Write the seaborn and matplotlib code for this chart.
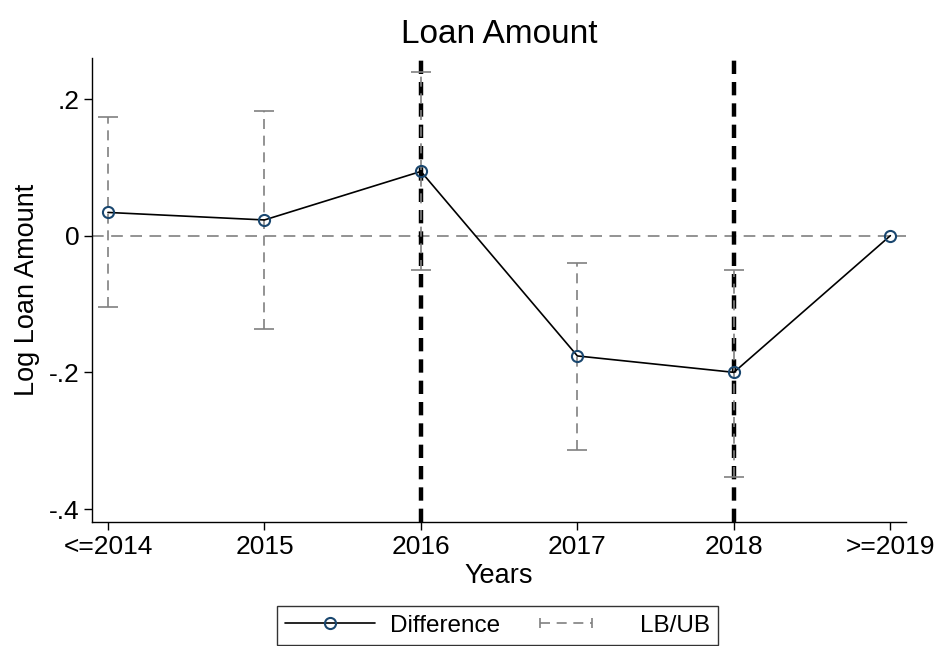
import numpy as np
import pandas as pd
import matplotlib
matplotlib.use("Agg")
import matplotlib.pyplot as plt
import seaborn as sns
from matplotlib.lines import Line2D
from matplotlib.legend_handler import HandlerLine2D

categories = ["<=2014", "2015", "2016", "2017", "2018", ">=2019"]
difference = [0.034, 0.023, 0.094, -0.176, -0.200, 0.0]
lower = [-0.105, -0.136, -0.050, -0.314, -0.353, np.nan]
upper = [0.174, 0.182, 0.239, -0.040, -0.050, np.nan]
event_years = ["2016", "2018"]
yticks = [-0.4, -0.2, 0.0, 0.2]
yticklabels = ["-.4", "-.2", "0", ".2"]

sns.set_style("ticks")
plt.rcParams["font.family"] = ["Liberation Sans", "DejaVu Sans"]
for k in ["text.color", "axes.labelcolor", "xtick.color", "ytick.color", "axes.edgecolor"]:
    plt.rcParams[k] = "black"

df = pd.DataFrame({"pos": np.arange(len(categories)), "year": categories,
                   "diff": difference, "lb": lower, "ub": upper})

fig = plt.figure(figsize=(9.35, 6.46), dpi=100)
ax = fig.add_axes([92/935, 1-522/646, (906-92)/935, (522-58)/646])

# zero line
ax.axhline(0, color="#808080", lw=1.2, ls=(0, (7, 4.5)), zorder=1)
# event lines
for ev in event_years:
    ax.axvline(categories.index(ev), color="black", lw=3.2, ls=(0, (3.0, 1.8)), zorder=2)

# CI
ci = df.dropna(subset=["lb"])
mid = (ci["lb"] + ci["ub"]) / 2
half = (ci["ub"] - ci["lb"]) / 2
eb = ax.errorbar(ci["pos"], mid, yerr=half, fmt="none", ecolor="#808080",
                 elinewidth=1.2, capsize=7, capthick=1.2, zorder=3)
for lc in eb[2]:
    lc.set_linestyle((0, (6, 4)))

sns.lineplot(data=df, x="pos", y="diff", ax=ax, color="black", lw=1.2,
             marker="o", markersize=8, markerfacecolor="none",
             markeredgecolor="#1a476f", markeredgewidth=1.5, zorder=4)

ax.set_xlim(-0.102, 5.10)
ax.set_ylim(-0.419, 0.26)
ax.set_xticks(df["pos"])
ax.set_xticklabels(categories, fontsize=19)
ax.set_yticks(yticks)
ax.set_yticklabels(yticklabels, fontsize=19)
ax.tick_params(axis="both", direction="out", length=6, width=1, color="black", pad=3)
for s in ["top", "right"]:
    ax.spines[s].set_visible(False)
for s in ["left", "bottom"]:
    ax.spines[s].set_color("black")
    ax.spines[s].set_linewidth(1)
ax.set_xlabel("Years", fontsize=19.5, labelpad=3)
ax.set_ylabel("Log Loan Amount", fontsize=19.5, labelpad=6)
ax.set_title("Loan Amount", fontsize=24, pad=11)


class ShortHandler(HandlerLine2D):
    def __init__(self, frac=1.0, **kw):
        super().__init__(**kw)
        self.frac = frac

    def get_xdata(self, legend, xdescent, ydescent, width, height, fontsize):
        xd, xm = super().get_xdata(legend, xdescent, ydescent, width, height, fontsize)
        x0 = -xdescent
        xd = x0 + (np.asarray(xd) - x0) * self.frac
        xm = x0 + (np.asarray(xm) - x0) * self.frac
        return xd, xm


h1 = Line2D([], [], color="black", lw=1.2, marker="o", markersize=8,
            markerfacecolor="none", markeredgecolor="#1a476f", markeredgewidth=1.5)
h2 = Line2D([], [], color="#808080", lw=1.2, ls=(0, (6, 4)), marker="|",
            markersize=7, markeredgewidth=1.2)
leg = fig.legend([h1, h2], ["Difference", "LB/UB"], loc="upper center",
                 bbox_to_anchor=(0.532, 1-606/646), ncol=2, fontsize=17.5,
                 frameon=True, fancybox=False, edgecolor="black",
                 handlelength=3.7, handletextpad=0.6, columnspacing=1.45,
                 borderpad=0.35, borderaxespad=0,
                 handler_map={h1: ShortHandler(frac=1.0, numpoints=1),
                              h2: ShortHandler(frac=0.69, numpoints=2)})
leg.get_frame().set_linewidth(1)

fig.savefig("out.png", dpi=100)
